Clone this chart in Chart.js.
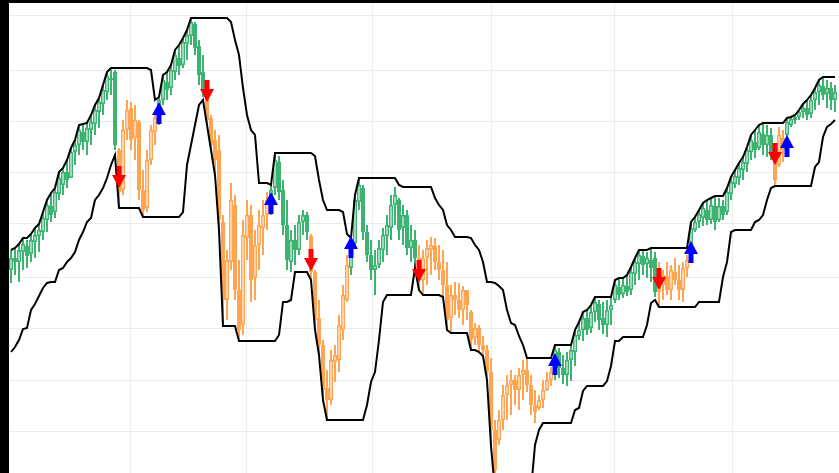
<!DOCTYPE html>
<html><head><meta charset="utf-8">
<script src="https://cdn.jsdelivr.net/npm/chart.js@4.4.1/dist/chart.umd.min.js"></script>
<style>
html,body{margin:0;padding:0;background:#000;width:839px;height:473px;overflow:hidden;}
#wrap{position:absolute;left:9px;top:3px;width:830px;height:470px;background:#fff;}
canvas{display:block;}
</style></head><body>
<div id="wrap"><canvas id="c" width="830" height="470"></canvas></div>
<script>
// ---- data (one candle per session, index = session number) ----
const opens = [
230,242,238,248,254,246,258,264,268,280,
294,288,306,315,328,322,348,355,368,358,
370,376,388,396,408,422,428,350,310,370,
392,362,378,310,292,340,368,380,400,418,
412,428,442,435,456,464,476,454,428,408,
382,360,350,278,200,238,295,210,175,262,
285,222,255,272,285,288,312,338,310,275,
238,260,250,278,285,264,228,182,155,112,
100,138,140,170,200,232,257,298,312,268,
245,230,235,250,264,272,295,300,272,285,
252,260,242,220,242,250,254,238,230,215,
182,205,200,190,210,188,162,172,155,150,
128,70,60,80,105,115,120,110,125,130,
115,95,92,100,110,120,128,148,132,125,
140,148,164,170,182,172,188,196,182,175,
190,200,213,206,214,210,226,236,244,236,
240,242,208,215,224,210,228,220,210,232,
242,270,278,282,290,280,294,280,294,288,
306,316,322,330,336,348,358,352,366,355,
365,345,335,362,365,375,380,383,388,392,
386,400,408,414,406,412,400];
const highs = [
250,252,256,262,260,266,272,276,288,300,
307,312,328,332,340,352,360,375,376,377,
385,395,402,415,428,432,430,352,380,400,
398,395,380,330,350,375,388,403,425,428,
435,450,455,462,470,482,478,460,445,412,
385,370,365,285,250,317,305,240,280,300,
295,270,290,300,308,315,347,344,320,300,
270,275,285,290,288,266,230,200,160,130,
150,155,185,215,245,262,305,322,315,275,
260,250,260,272,285,305,313,302,295,290,
275,270,255,250,260,263,262,255,250,238,
215,218,217,214,210,190,177,175,164,155,
142,80,90,115,125,130,125,132,140,142,
125,110,105,120,128,133,155,152,145,148,
155,170,178,188,190,195,203,200,198,200,
202,220,222,222,225,233,242,250,250,248,
252,248,238,230,238,235,242,235,238,245,
278,283,290,297,300,302,304,302,300,312,
323,330,337,343,353,365,370,375,377,375,
372,350,373,370,382,383,385,390,396,400,
405,412,420,423,420,418,415];
const lows = [
217,225,218,230,232,238,242,248,260,268,
278,282,300,305,312,322,335,345,350,345,
355,365,372,385,400,405,350,292,305,360,
350,340,300,283,288,335,355,375,395,400,
405,420,425,432,440,455,445,415,403,375,
350,325,270,174,180,230,200,159,165,240,
198,200,230,245,270,285,305,300,265,230,
228,235,245,265,260,220,170,145,100,80,
95,118,128,160,198,225,255,290,260,238,
220,205,232,238,245,260,275,260,255,245,
238,234,210,205,215,225,230,220,203,170,
167,185,182,175,180,150,155,148,144,120,
54,10,55,70,80,85,95,90,100,108,
85,77,90,92,109,114,120,122,116,114,
119,134,160,159,165,167,178,170,166,163,
175,197,200,202,204,205,215,220,225,222,
218,203,193,200,205,200,215,200,198,223,
238,268,272,274,275,276,270,278,280,285,
300,312,315,320,328,340,342,350,345,343,
340,314,333,338,363,373,376,380,382,380,
382,390,395,400,392,390,388];
const closes = [
242,238,250,256,244,260,265,270,282,295,
285,308,322,328,320,348,355,370,358,372,
378,390,398,410,424,420,355,308,370,390,
360,380,310,290,340,370,382,400,420,410,
430,445,434,458,465,478,452,425,410,380,
355,340,280,200,240,300,210,170,265,285,
220,255,275,285,300,310,340,308,275,240,
260,250,278,285,268,228,180,155,110,100,
140,145,175,205,235,255,300,315,268,245,
230,235,252,265,275,295,305,270,285,252,
260,242,220,242,252,255,238,230,215,180,
205,200,190,210,195,160,172,155,150,128,
70,30,80,105,115,120,110,125,130,115,
95,88,100,110,120,128,150,132,125,140,
150,165,170,182,170,188,198,180,175,190,
195,215,205,215,208,228,238,245,235,242,
232,208,218,225,210,230,220,210,232,240,
272,278,286,292,280,295,278,294,285,308,
318,324,332,338,350,360,350,368,355,365,
345,320,365,350,378,381,383,388,392,385,
400,408,415,405,412,400,408];
// channel: upper and lower band
const upperBand = [
250,252,256,262,262,266,272,276,288,300,
307,312,328,332,340,352,360,375,376,377,
385,395,402,415,428,432,432,432,432,432,
432,432,432,432,432,430,400,403,425,428,
435,450,455,462,470,482,482,482,482,482,
482,482,482,482,482,478,460,445,412,385,
370,365,317,317,317,315,347,347,347,347,
347,347,347,347,347,347,344,320,300,290,
290,290,290,288,266,262,305,322,322,322,
322,322,322,322,322,322,322,315,313,313,
313,313,313,313,313,313,302,295,290,275,
270,263,263,263,263,262,255,250,238,218,
218,217,214,210,190,177,175,164,155,142,
142,142,142,142,142,142,155,155,155,155,
155,170,178,188,190,195,203,203,203,203,
203,220,222,222,225,233,242,250,250,250,
252,252,252,252,252,252,252,252,252,252,
278,283,290,297,300,302,304,304,304,312,
323,330,337,343,353,365,370,375,377,377,
377,377,377,377,382,383,385,390,396,400,
405,412,420,423,423,423,423];
const lowerBand = [
148,153,160,171,172,190,196,204,212,217,
218,218,230,232,238,242,248,260,268,278,
282,300,305,312,322,335,345,292,292,292,
292,292,292,283,283,283,283,283,283,283,
283,283,283,288,335,355,375,395,400,375,
350,325,270,174,174,174,174,159,159,159,
159,159,159,159,159,159,159,165,198,198,
200,228,228,228,228,220,170,145,100,80,
80,80,80,80,80,80,80,80,80,95,
118,128,160,198,205,205,205,205,205,205,
205,232,210,205,205,205,205,205,203,170,
167,167,167,167,167,150,150,148,144,120,
54,10,10,10,10,10,10,10,10,10,
10,55,70,77,77,77,77,77,77,77,
77,90,92,109,114,114,114,114,114,119,
134,159,159,163,163,163,163,163,163,175,
197,200,193,193,193,193,193,193,193,193,
193,193,198,198,198,198,198,198,223,238,
268,270,270,270,270,270,278,280,285,300,
312,314,314,314,314,314,314,314,314,314,
314,333,338,363,373,376,380];
// signals
const sellIdx   = [27, 49, 75, 102, 162, 191];
const sellPrice = [323, 409, 240, 229, 221, 346];
const buyIdx    = [37, 65, 85, 136, 170, 194];
const buyPrice  = [387, 297, 253, 136, 248, 354];
// grid positions
const monthTicks = [29.75, 58.9, 90.4, 120.2, 150.8, 180.3];
const priceTicks = [69, 120, 172, 223, 276, 328, 379, 430, 484];

const GREEN = '#3cb371', ORANGE = '#ffa552';
const trend = [];
let inPos = true;
for (let i = 0; i < highs.length; i++) {
  if (sellIdx.includes(i)) inPos = false;
  if (buyIdx.includes(i)) inPos = true;
  trend.push(inPos ? GREEN : ORANGE);
}
const idx = highs.map((_, i) => i);
const wickData = idx.map(i => ({x: i, y: [lows[i], highs[i]]}));
const bodyData = idx.map(i => ({x: i, y: [opens[i], closes[i]]}));
const upperData = idx.map(i => ({x: i, y: upperBand[i]}));
const lowerData = idx.map(i => ({x: i, y: lowerBand[i]}));
const sellPts = sellIdx.map((v, k) => ({x: v, y: sellPrice[k]}));
const buyPts = buyIdx.map((v, k) => ({x: v, y: buyPrice[k]}));

function arrow(color, down) {
  const c = document.createElement('canvas');
  c.width = 14; c.height = 22;
  const g = c.getContext('2d');
  g.fillStyle = color;
  g.beginPath();
  if (down) {
    g.rect(4.5, 0, 5, 10);
    g.moveTo(0, 9); g.lineTo(14, 9); g.lineTo(7, 22); g.closePath();
  } else {
    g.moveTo(7, 0); g.lineTo(14, 13); g.lineTo(0, 13); g.closePath();
    g.rect(4.5, 12, 5, 10);
  }
  g.fill();
  return c;
}
const redArrow = arrow('#ff0000', true);
const blueArrow = arrow('#0000ff', false);

const gridColor = '#ececec';
new Chart(document.getElementById('c'), {
  type: 'bar',
  data: {
    datasets: [
      {type: 'line', data: sellPts, showLine: false, pointStyle: redArrow, pointRadius: 6, order: 0},
      {type: 'line', data: buyPts, showLine: false, pointStyle: blueArrow, pointRadius: 6, order: 0},
      {type: 'line', data: upperData, borderColor: '#000', borderWidth: 2, pointRadius: 0, tension: 0, order: 1},
      {type: 'line', data: lowerData, borderColor: '#000', borderWidth: 2, pointRadius: 0, tension: 0, order: 1},
      {type: 'bar', data: bodyData, grouped: false, barThickness: 4, borderWidth: 1.5, borderSkipped: false,
       inflateAmount: 0, order: 2,
       borderColor: ctx => trend[ctx.dataIndex],
       backgroundColor: ctx => (closes[ctx.dataIndex] > opens[ctx.dataIndex] ? '#ffffff' : trend[ctx.dataIndex])},
      {type: 'bar', data: wickData, grouped: false, barThickness: 2, borderWidth: 0, inflateAmount: 0, order: 3,
       backgroundColor: ctx => trend[ctx.dataIndex]}
    ]
  },
  options: {
    responsive: false, animation: false, devicePixelRatio: 1,
    layout: {padding: 0, autoPadding: false},
    plugins: {legend: {display: false}, tooltip: {enabled: false}},
    scales: {
      x: {type: 'linear', min: -0.5, max: 207, offset: false,
          grid: {color: gridColor, drawTicks: false, offset: false, lineWidth: 1},
          border: {display: false}, ticks: {display: false},
          afterBuildTicks: s => { s.ticks = monthTicks.map(v => ({value: v})); }},
      y: {type: 'linear', min: 27, max: 497,
          grid: {color: gridColor, drawTicks: false, lineWidth: 1},
          border: {display: false}, ticks: {display: false},
          afterBuildTicks: s => { s.ticks = priceTicks.map(v => ({value: v})); }}
    }
  }
});
</script>
</body></html>
